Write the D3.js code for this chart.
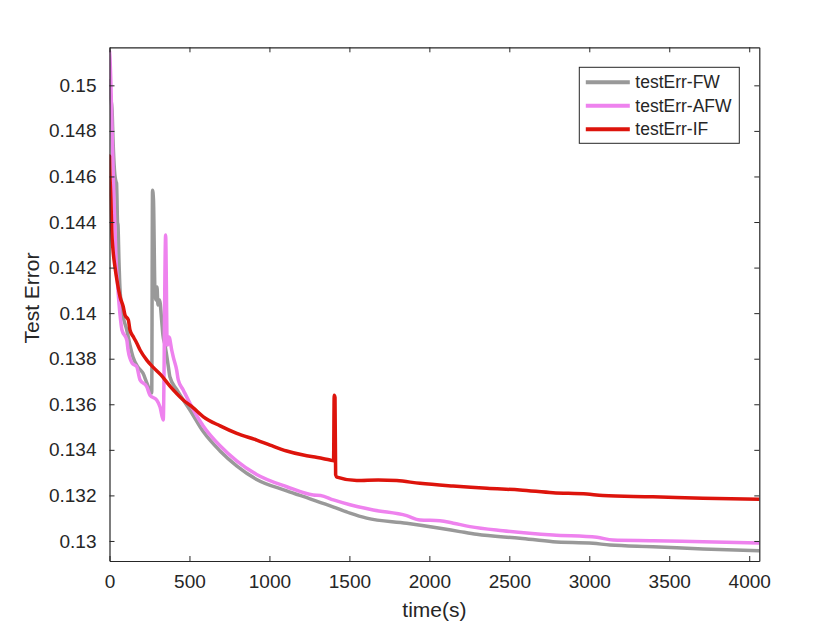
<!DOCTYPE html>
<html>
<head>
<meta charset="utf-8">
<script src="https://cdn.jsdelivr.net/npm/d3@7"></script>
<style>
  body { margin: 0; background: #ffffff; }
  svg text { font-family: "Liberation Sans", Arial, sans-serif; fill: #262626; }
</style>
</head>
<body>
<div id="chart_div"></div>
<script>
// series: time (s) and test error
let fw_time = [0, 6, 16, 22, 31, 41, 44, 47, 50, 53, 59, 66, 84, 108, 128, 147, 178, 209, 234, 264,
    269, 275, 284, 291, 297, 303, 313, 326, 334, 347, 368, 378, 420, 503, 586, 691, 795, 920,
    1108, 1254, 1397, 1504, 1608, 1858, 2066, 2191, 2296, 2566, 2773, 3023, 3129, 3398, 3711, 4061];
let fw_err = [0.15020, 0.14957, 0.14892, 0.14760, 0.14628, 0.14576, 0.14571, 0.14497, 0.14400, 0.14387,
    0.14234, 0.14101, 0.13992, 0.13926, 0.13860, 0.13807, 0.13763, 0.13737, 0.13693, 0.13649,
    0.14540, 0.14497, 0.14101, 0.14058, 0.14115, 0.14036, 0.14058, 0.13970, 0.13904, 0.13860,
    0.13765, 0.13720, 0.13665, 0.13575, 0.13480, 0.13395, 0.13330, 0.13270,
    0.13220, 0.13185, 0.13150, 0.13122, 0.13100, 0.13078, 0.13056, 0.13041, 0.13029, 0.13012,
    0.12997, 0.12990, 0.12982, 0.12975, 0.12965, 0.12957];

let afw_time = [0, 3, 9, 16, 28, 41, 53, 66, 78, 108, 116, 141, 170, 191, 233, 253, 295, 316, 336,
    351, 356, 359, 363, 372, 389, 399, 420, 430, 461, 503, 586, 691, 795, 920, 1108, 1274, 1320,
    1400, 1504, 1649, 1858, 1941, 2066, 2150, 2254, 2460, 2773, 3048, 3148, 3398, 3711, 4061];
let afw_err = [0.15150, 0.15120, 0.15001, 0.14804, 0.14497, 0.14234, 0.14101, 0.13992, 0.13926,
    0.13882, 0.13838, 0.13781, 0.13765, 0.13707, 0.13677, 0.13640, 0.13619, 0.13588, 0.13531,
    0.14343, 0.14100, 0.13895, 0.13860, 0.13895, 0.13838, 0.13807, 0.13750, 0.13707, 0.13663,
    0.13604, 0.13505, 0.13418, 0.13352, 0.13292, 0.13238, 0.13202, 0.13200,
    0.13180, 0.13159, 0.13136, 0.13111, 0.13092, 0.13089, 0.13078, 0.13063, 0.13045, 0.13026,
    0.13016, 0.13004, 0.13001, 0.12996, 0.12991];

let if_time = [0, 3, 9, 14, 22, 34, 50, 66, 86, 97, 118, 128, 150, 170, 191, 233, 272, 320, 378,
    461, 522, 587, 692, 796, 921, 1004, 1108, 1212, 1300, 1379, 1401, 1405, 1410, 1414, 1422,
    1546, 1680, 1796, 1941, 2148, 2360, 2566, 2773, 2986, 3085, 3398, 3711, 4061];
let if_err = [0.14690, 0.14606, 0.14497, 0.14365, 0.14277, 0.14204, 0.14130, 0.14072, 0.14028,
    0.13992, 0.13970, 0.13926, 0.13895, 0.13869, 0.13838, 0.13794, 0.13763, 0.13730, 0.13680,
    0.13619, 0.13585, 0.13545, 0.13505, 0.13472, 0.13443, 0.13421, 0.13395, 0.13377, 0.13366,
    0.13355, 0.13352, 0.13640, 0.13630, 0.13290, 0.13280,
    0.13265, 0.13268, 0.13265, 0.13253, 0.13241, 0.13231, 0.13224, 0.13212, 0.13206, 0.13199,
    0.13194, 0.13187, 0.13183];

let series_names = ['testErr-FW', 'testErr-AFW', 'testErr-IF'];
let series_colors = ['#999999', '#ee82ee', '#dd140c'];

let x_ticks = [0, 500, 1000, 1500, 2000, 2500, 3000, 3500, 4000];
let y_ticks = [0.13, 0.132, 0.134, 0.136, 0.138, 0.14, 0.142, 0.144, 0.146, 0.148, 0.15];
let x_domain = [0, 4063];
let y_domain = [0.12912, 0.15167];

const make_chart = function() {

    let width = 840;
    let height = 631;
    let margin = { left: 109.5, right: 80.7, top: 47.3, bottom: 70 };
    let inner_w = width - margin.left - margin.right;
    let inner_h = height - margin.top - margin.bottom;
    let axis_color = '#262626';

    let svg = d3.select('#chart_div')
        .append('svg')
        .attr('id', 'main_svg')
        .attr('width', width)
        .attr('height', height);

    let x = d3.scaleLinear().domain(x_domain).range([0, inner_w]);
    let y = d3.scaleLinear().domain(y_domain).range([inner_h, 0]);

    let plot = svg.append('g')
        .attr('transform', 'translate(' + margin.left + ',' + margin.top + ')');

    plot.append('clipPath')
        .attr('id', 'plot_clip')
        .append('rect')
        .attr('width', inner_w)
        .attr('height', inner_h);

    // lines, FW first so IF is on top
    let all_series = [
        d3.zip(fw_time, fw_err),
        d3.zip(afw_time, afw_err),
        d3.zip(if_time, if_err)
    ];

    let line = d3.line()
        .curve(d3.curveMonotoneX)
        .x(function(d) { return x(d[0]); })
        .y(function(d) { return y(d[1]); });

    plot.append('g')
        .attr('clip-path', 'url(#plot_clip)')
        .selectAll('path')
        .data(all_series)
        .enter()
        .append('path')
        .attr('d', line)
        .attr('fill', 'none')
        .attr('stroke', function(d, i) { return series_colors[i]; })
        .attr('stroke-width', 3.5)
        .attr('stroke-linejoin', 'round')
        .attr('stroke-linecap', 'round');

    // axes: MATLAB style box with inward ticks on all sides
    let fmt_y = function(v) { return String(+v.toFixed(3)); };

    let bottom_axis = plot.append('g')
        .attr('transform', 'translate(0,' + inner_h + ')')
        .call(d3.axisBottom(x).tickValues(x_ticks).tickSizeInner(-5).tickSizeOuter(0)
            .tickPadding(14).tickFormat(d3.format('d')));
    let top_axis = plot.append('g')
        .call(d3.axisTop(x).tickValues(x_ticks).tickSizeInner(-5).tickSizeOuter(0).tickFormat(''));
    let left_axis = plot.append('g')
        .call(d3.axisLeft(y).tickValues(y_ticks).tickSizeInner(-5).tickSizeOuter(0).tickPadding(13).tickFormat(fmt_y));
    let right_axis = plot.append('g')
        .attr('transform', 'translate(' + inner_w + ',0)')
        .call(d3.axisRight(y).tickValues(y_ticks).tickSizeInner(-5).tickSizeOuter(0).tickFormat(''));

    [bottom_axis, top_axis, left_axis, right_axis].forEach(function(ax) {
        ax.select('.domain').attr('stroke', axis_color).attr('stroke-width', 1.2);
        ax.selectAll('.tick line').attr('stroke', axis_color).attr('stroke-width', 1);
        ax.selectAll('.tick text')
            .attr('fill', axis_color)
            .style('font-size', '19px')
            .style('font-family', '"Liberation Sans", Arial, sans-serif');
    });

    // axis labels
    svg.append('text')
        .attr('x', margin.left + inner_w / 2)
        .attr('y', 617)
        .attr('text-anchor', 'middle')
        .style('font-size', '21px')
        .text('time(s)');

    svg.append('text')
        .attr('transform', 'translate(39,298) rotate(-90)')
        .attr('text-anchor', 'middle')
        .style('font-size', '21px')
        .text('Test Error');

    // legend
    let legend = svg.append('g')
        .attr('transform', 'translate(579.3,67.3)');

    legend.append('rect')
        .attr('width', 160)
        .attr('height', 76)
        .attr('fill', '#ffffff')
        .attr('stroke', axis_color)
        .attr('stroke-width', 1);

    let rows = legend.selectAll('g.legend_row')
        .data(series_names)
        .enter()
        .append('g')
        .attr('class', 'legend_row')
        .attr('transform', function(d, i) { return 'translate(0,' + (15 + i * 23.5) + ')'; });

    rows.append('line')
        .attr('x1', 6.5)
        .attr('x2', 50.5)
        .attr('stroke', function(d, i) { return series_colors[i]; })
        .attr('stroke-width', 4);

    rows.append('text')
        .attr('x', 56)
        .attr('dy', '0.35em')
        .style('font-size', '17.5px')
        .text(function(d) { return d; });
};

make_chart();
</script>
</body>
</html>
